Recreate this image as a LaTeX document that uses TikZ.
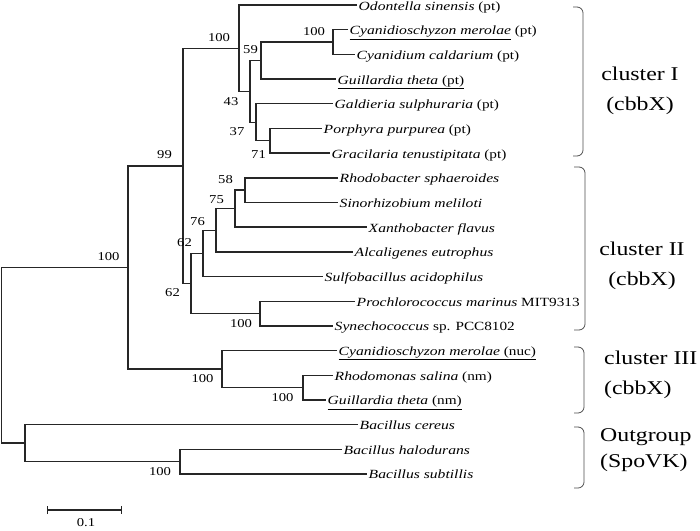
\documentclass[tikz,border=0pt]{standalone}
\usepackage{fontspec}
\setmainfont[FakeStretch=1.22]{Liberation Serif}
\newfontfamily\taxfont[FakeStretch=1.25]{Liberation Serif Italic}
\newcommand\tx[1]{{\taxfont #1}}
\usetikzlibrary{arrows.meta}

\tikzset{
  branch/.style={line width=1.4pt,black!85},
  taxon/.style={anchor=west,inner sep=1.5pt,text height=11pt,text depth=1pt,font=\fontsize{12.5}{14}\selectfont},
  boot/.style={inner sep=0pt,font=\fontsize{12}{14}\selectfont},
  clade/.style={line width=0.8pt,black!70,rounded corners=6pt},
  clabel/.style={inner sep=0pt,font=\fontsize{19.5}{30}\selectfont}
}

\begin{document}
\begin{tikzpicture}[x=1pt,y=-1pt]
  \useasboundingbox (0,0) rectangle (700,530);
  % taxa
  \node[taxon](odon) at (357,5) {\tx{Odontella sinensis} (pt)};
  \node[taxon](cmerpt) at (348,29.7) {\underline{\tx{Cyanidioschyzon merolae}} (pt)};
  \node[taxon](ccal) at (355,54.4) {\tx{Cyanidium caldarium} (pt)};
  \node[taxon](gthpt) at (336,79) {\underline{\tx{Guillardia theta} (pt)}};
  \node[taxon](gsul) at (333,103.7) {\tx{Galdieria sulphuraria} (pt)};
  \node[taxon](ppur) at (322,128.4) {\tx{Porphyra purpurea} (pt)};
  \node[taxon](gten) at (330,153.1) {\tx{Gracilaria tenustipitata} (pt)};
  \node[taxon](rsph) at (338,177.8) {\tx{Rhodobacter sphaeroides}};
  \node[taxon](smel) at (338,202.4) {\tx{Sinorhizobium meliloti}};
  \node[taxon](xfla) at (367,227.1) {\tx{Xanthobacter flavus}};
  \node[taxon](aeut) at (353,251.8) {\tx{Alcaligenes eutrophus}};
  \node[taxon](saci) at (323,276.5) {\tx{Sulfobacillus acidophilus}};
  \node[taxon](pmar) at (355,301.2) {\tx{Prochlorococcus marinus} MIT9313};
  \node[taxon](syne) at (333,325.8) {\tx{Synechococcus} sp. PCC8102};
  \node[taxon](cmernuc) at (337,350.5) {\underline{\tx{Cyanidioschyzon merolae} (nuc)}};
  \node[taxon](rsal) at (333,375.2) {\tx{Rhodomonas salina} (nm)};
  \node[taxon](gthnm) at (326,399.9) {\underline{\tx{Guillardia theta} (nm)}};
  \node[taxon](bcer) at (358,424.6) {\tx{Bacillus cereus}};
  \node[taxon](bhal) at (342,449.2) {\tx{Bacillus halodurans}};
  \node[taxon](bsub) at (367,473.9) {\tx{Bacillus subtillis}};
  % inner nodes
  \coordinate(cya) at (333,42);
  \coordinate(n59) at (261,60.5);
  \coordinate(n71) at (270,140.7);
  \coordinate(n37) at (256,122.2);
  \coordinate(n43) at (250,91.4);
  \coordinate(clI) at (239,48.2);
  \coordinate(n58) at (245,190.1);
  \coordinate(n75) at (235,208.6);
  \coordinate(n76) at (216,230.2);
  \coordinate(n62) at (203,253.4);
  \coordinate(cyb) at (260,313.5);
  \coordinate(clII) at (191,283.4);
  \coordinate(n99) at (183,165.8);
  \coordinate(rg) at (303,387.5);
  \coordinate(clIII) at (222,369);
  \coordinate(ing) at (128,267.4);
  \coordinate(bsh) at (180,461.6);
  \coordinate(outg) at (25,443.1);
  \coordinate(root) at (1.5,355.3);
  % branches
  \draw[branch](cmerpt.west)-|(cya)|-(ccal.west);
  \draw[branch](cya)-|(n59)|-(gthpt.west);
  \draw[branch](ppur.west)-|(n71)|-(gten.west);
  \draw[branch](gsul.west)-|(n37)|-(n71);
  \draw[branch](n59)-|(n43)|-(n37);
  \draw[branch](odon.west)-|(clI)|-(n43);
  \draw[branch](rsph.west)-|(n58)|-(smel.west);
  \draw[branch](n58)-|(n75)|-(xfla.west);
  \draw[branch](n75)-|(n76)|-(aeut.west);
  \draw[branch](n76)-|(n62)|-(saci.west);
  \draw[branch](pmar.west)-|(cyb)|-(syne.west);
  \draw[branch](n62)-|(clII)|-(cyb);
  \draw[branch](clI)-|(n99)|-(clII);
  \draw[branch](rsal.west)-|(rg)|-(gthnm.west);
  \draw[branch](cmernuc.west)-|(clIII)|-(rg);
  \draw[branch](n99)-|(ing)|-(clIII);
  \draw[branch](bhal.west)-|(bsh)|-(bsub.west);
  \draw[branch](bcer.west)-|(outg)|-(bsh);
  \draw[branch](ing)-|(root)|-(outg);
  % bootstrap values
  \node[boot](b100a) at (314,32) {100};
  \node[boot](b59) at (250.5,50) {59};
  \node[boot](b100b) at (219,38) {100};
  \node[boot](b43) at (231,102) {43};
  \node[boot](b37) at (237,132) {37};
  \node[boot](b71) at (258.5,155) {71};
  \node[boot](b99) at (164.5,155) {99};
  \node[boot](b58) at (225.5,180) {58};
  \node[boot](b75) at (216.5,200) {75};
  \node[boot](b76) at (197.5,222) {76};
  \node[boot](b62a) at (184.5,243) {62};
  \node[boot](b100c) at (108.5,257) {100};
  \node[boot](b62b) at (172.5,293) {62};
  \node[boot](b100d) at (241,324) {100};
  \node[boot](b100e) at (202.5,379) {100};
  \node[boot](b100f) at (282.5,398) {100};
  \node[boot](b100g) at (160,472) {100};
  % clusters
  \draw[clade](573,7)-|(583,80)|-(573,156);
  \draw[clade](574,167)-|(585,250)|-(574,330);
  \draw[clade](574,347)-|(584,380)|-(574,413);
  \draw[clade](574,427)-|(584,458)|-(574,488);
  \node[clabel,align=center](lI) at (640,91) {cluster I\\(cbbX)};
  \node[clabel,align=center](lII) at (642,266) {cluster II\\(cbbX)};
  \node[clabel,align=left,anchor=west](lIII) at (604,375) {cluster III\\(cbbX)};
  \node[clabel,align=left,anchor=west](lout) at (600,450) {Outgroup\\[-4pt](SpoVK)};
  % scale bar
  \coordinate(sbl) at (47,510);
  \coordinate(sbr) at (122,510);
  \draw[line width=1.2pt,black!85,{Bar[width=8pt]}-{Bar[width=8pt]}](sbl)--(sbr);
  \node[boot](sbt) at (86,523) {0.1};
\end{tikzpicture}
\end{document}
